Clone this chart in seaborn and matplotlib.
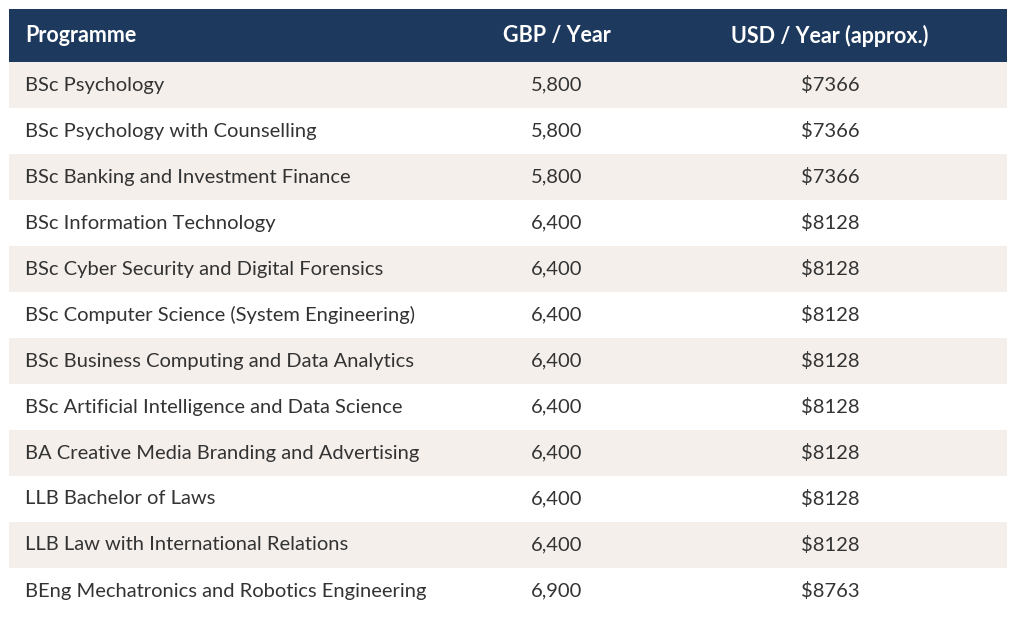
import matplotlib
matplotlib.use("Agg")
import matplotlib.pyplot as plt
from matplotlib.colors import ListedColormap
import numpy as np
import seaborn as sns

programmes = [
    "BSc Psychology",
    "BSc Psychology with Counselling",
    "BSc Banking and Investment Finance",
    "BSc Information Technology",
    "BSc Cyber Security and Digital Forensics",
    "BSc Computer Science (System Engineering)",
    "BSc Business Computing and Data Analytics",
    "BSc Artificial Intelligence and Data Science",
    "BA Creative Media Branding and Advertising",
    "LLB Bachelor of Laws",
    "LLB Law with International Relations",
    "BEng Mechatronics and Robotics Engineering",
]
gbp = [5800, 5800, 5800, 6400, 6400, 6400, 6400, 6400, 6400, 6400, 6400, 6900]
usd = [7366, 7366, 7366, 8128, 8128, 8128, 8128, 8128, 8128, 8128, 8128, 8763]
headers = ["Programme", "GBP / Year", "USD / Year (approx.)"]

sns.set_theme(style="white")
plt.rcParams["font.family"] = ["Lato", "DejaVu Sans"]

W, H = 1024, 622
fig = plt.figure(figsize=(W / 100, H / 100), dpi=100)
fig.patch.set_facecolor("white")

left, right = 9, 1007
head_top, head_h, row_h = 9, 53, 46
n = len(programmes)

NAVY = "#1d3a5e"
BEIGE = "#f4efeb"
TEXT = "#333333"

# Background stripes via heatmap
body_top = head_top + head_h
ax_body = fig.add_axes([left / W, 1 - (body_top + n * row_h) / H,
                        (right - left) / W, n * row_h / H])
stripes = np.array([[i % 2] for i in range(n)])
sns.heatmap(stripes, ax=ax_body, cmap=ListedColormap([BEIGE, "white"]),
            cbar=False, vmin=0, vmax=1, xticklabels=False, yticklabels=False)
ax_body.set_axis_off()

# Overlay axes in pixel coordinates for text and header
ax = fig.add_axes([0, 0, 1, 1])
ax.set_xlim(0, W)
ax.set_ylim(H, 0)
ax.set_axis_off()
ax.patch.set_alpha(0)

ax.add_patch(plt.Rectangle((left, head_top), right - left, head_h,
                           facecolor=NAVY, edgecolor="none"))

col_x = [25, 557, 830]
fs_head = 15.5
fs_body = 14.5
hy = head_top + head_h / 2
ax.text(col_x[0], hy, headers[0], color="white", fontsize=fs_head,
        fontweight="bold", ha="left", va="center")
ax.text(col_x[1], hy, headers[1], color="white", fontsize=fs_head,
        fontweight="bold", ha="center", va="center")
ax.text(col_x[2], hy, headers[2], color="white", fontsize=fs_head,
        fontweight="bold", ha="center", va="center")

for i, (p, g, u) in enumerate(zip(programmes, gbp, usd)):
    y = body_top + i * row_h + row_h / 2
    ax.text(col_x[0], y, p, color=TEXT, fontsize=fs_body, ha="left", va="center")
    ax.text(col_x[1], y, f"{g:,}", color=TEXT, fontsize=fs_body, ha="center", va="center")
    ax.text(col_x[2], y, f"${u}", color=TEXT, fontsize=fs_body, ha="center", va="center")

fig.savefig("out.png", dpi=100)
